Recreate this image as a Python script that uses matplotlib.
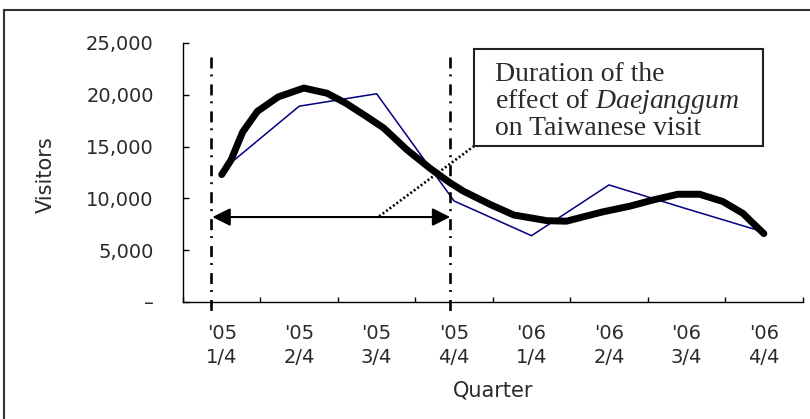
import numpy as np
import matplotlib
matplotlib.use("Agg")
import matplotlib.pyplot as plt
from matplotlib.patches import Rectangle

plt.rcParams["lines.scale_dashes"] = False
plt.rcParams["font.family"] = ["DejaVu Sans"]
plt.rcParams["mathtext.fontset"] = "custom"
plt.rcParams["mathtext.rm"] = "Liberation Serif"
plt.rcParams["mathtext.it"] = "Liberation Serif:italic"

# Quarterly visitors and the smoothed trend
quarters = ["'05\n1/4", "'05\n2/4", "'05\n3/4", "'05\n4/4",
            "'06\n1/4", "'06\n2/4", "'06\n3/4", "'06\n4/4"]
visitors = [12700, 18900, 20100, 9750, 6400, 11300, 9000, 6750]

trend_pos = [0.00, 0.12, 0.27, 0.46, 0.73, 1.06, 1.36, 1.60, 1.87, 2.09,
             2.39, 2.69, 2.95, 3.12, 3.47, 3.77, 4.20, 4.45, 4.92, 5.27,
             5.57, 5.89, 6.17, 6.47, 6.73, 6.86, 7.00]
trend_val = [12300, 13700, 16400, 18400, 19800, 20650, 20150, 19200, 17900, 16800,
             14700, 12900, 11500, 10700, 9400, 8400, 7850, 7800, 8700, 9250,
             9850, 10400, 10400, 9700, 8550, 7600, 6600]

y_ticks = [0, 5000, 10000, 15000, 20000, 25000]
y_labels = ["–", "5,000", "10,000", "15,000", "20,000", "25,000"]

# Period of the drama's effect (quarter index) and arrow level
span_start, span_end = -0.14, 2.95
span_level = 8200

TXT = "#2a2a2a"

fig = plt.figure(figsize=(8.1, 4.19), dpi=100)
ax = fig.add_axes([183 / 810, 117 / 419, 619.6 / 810, 259 / 419])

ax.plot(range(len(visitors)), visitors, color="#000080", lw=1.1, zorder=3)
ax.plot(trend_pos, trend_val, color="black", lw=5,
        solid_capstyle="round", solid_joinstyle="round", zorder=4)

ax.set_xlim(-0.5, 7.5)
ax.set_ylim(0, 25000)
for s in ("top", "right"):
    ax.spines[s].set_visible(False)
for s in ("left", "bottom"):
    ax.spines[s].set_linewidth(1.0)

ax.set_yticks(y_ticks)
ax.set_yticklabels(y_labels, color=TXT)
ax.set_xticks(np.arange(-0.5, 8, 1))
ax.set_xticklabels([])
ax.set_xticks(range(len(quarters)), minor=True)
ax.set_xticklabels(quarters, minor=True, color=TXT)
for lbl in ax.get_xticklabels(minor=True):
    lbl.set_linespacing(1.35)

ax.tick_params(axis="x", which="major", direction="in", length=3.6, width=1)
ax.tick_params(axis="x", which="minor", length=0, pad=15.5, labelsize=14)
ax.tick_params(axis="y", direction="in", length=4, width=1, pad=21, labelsize=14)

ax.set_xlabel("Quarter", fontsize=15, color=TXT, va="center")
ax.xaxis.set_label_coords(0.5, -0.34)
ax.set_ylabel("Visitors", fontsize=15, color=TXT, va="center")
ax.yaxis.set_label_coords(-0.222, 0.49)

# Dash-dot markers bounding the period
for xv in (span_start, span_end):
    ax.plot([xv, xv], [23650, -1060], color="black", lw=1.9,
            dashes=[7.9, 4.3, 1.4, 5.8], clip_on=False, zorder=5)

# Double-headed arrow across the period
ax.annotate("", xy=(span_start + 0.02, span_level), xytext=(span_end, span_level),
            arrowprops=dict(arrowstyle="<|-|>,head_length=0.54,head_width=0.27",
                            mutation_scale=20, lw=1.5, color="black",
                            shrinkA=0, shrinkB=0), zorder=5)

# Leader from the note to the arrow
ax.plot([3.26, 2.02], [15060, span_level], color="black", lw=1.9,
        dashes=[1.4, 1.7], zorder=5)

# Note box
ax.add_patch(Rectangle((3.26, 15060), 6.99 - 3.26, 24420 - 15060,
                       facecolor="white", edgecolor="#222222", lw=1.5,
                       zorder=6, clip_on=False))
note_lines = ["Duration of the", r"effect of $\mathit{Daejanggum}$", "on Taiwanese visit"]
for line, yb in zip(note_lines, [21330, 18730, 16120]):
    ax.text(3.53, yb, line, family="Liberation Serif", fontsize=20,
            color=TXT, va="baseline", ha="left", zorder=7)

# Outer frame
fig.patches.append(Rectangle((4 / 810, -0.2), 2.0, 1.2 - 10 / 419,
                             transform=fig.transFigure, fill=False,
                             edgecolor="#333333", lw=1.5, zorder=0))

fig.savefig("out.png", dpi=100)
